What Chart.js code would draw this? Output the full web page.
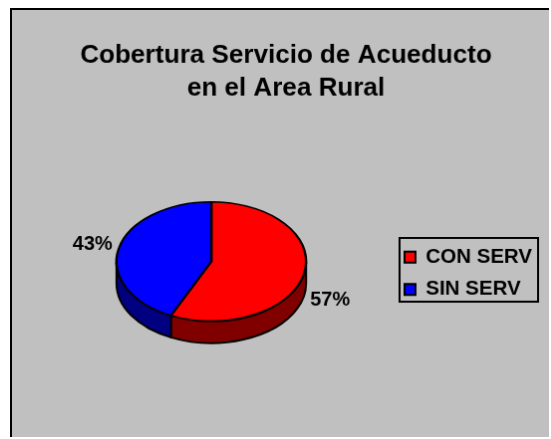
<!DOCTYPE html>
<html>
<head>
<meta charset="utf-8">
<script src="https://cdn.jsdelivr.net/npm/chart.js@4/dist/chart.umd.min.js"></script>
<style>
  html, body { margin: 0; padding: 0; background: #fff; overflow: hidden; }
  #myChart { position: absolute; left: 10px; top: 8px; border-left: 2px solid #000; border-top: 2px solid #000; background: #c0c0c0; }
</style>
</head>
<body>
<canvas id="myChart" width="539" height="429"></canvas>
<script>
var categories = ["CON SERV", "SIN SERV"];
var values = [57, 43];
var percentLabels = ["57%", "43%"];
var topColors = ["#ff0000", "#0000ff"];
var sideColors = ["#800000", "#000080"];

var tilt = 0.63;    // ellipse height / width
var depth = 22;     // wall height
var font = "Liberation Sans, Arial, sans-serif";

// fake 3d: wall first, then squash the pie
var pie3d = {
  id: "pie3d",
  afterLayout: function(chart) {
    // legend box sits lower than the pie centre
    var legend = chart.legend;
    legend.left = 382;
    legend.right = 528;
    legend.top = 203;
    legend.bottom = 326;
  },
  beforeDatasetsDraw: function(chart) {
    var ctx = chart.ctx;
    var arcs = chart.getDatasetMeta(0).data;

    arcs.forEach(function(arc, i) {
      var a = Math.max(arc.startAngle, 0);
      var b = Math.min(arc.endAngle, Math.PI);
      if (b <= a) return;
      var r = arc.outerRadius;
      ctx.beginPath();
      ctx.ellipse(arc.x, arc.y, r, r * tilt, 0, a, b);
      ctx.ellipse(arc.x, arc.y + depth, r, r * tilt, 0, b, a, true);
      ctx.closePath();
      ctx.fillStyle = sideColors[i];
      ctx.fill();
      ctx.lineWidth = 2;
      ctx.strokeStyle = "#000";
      ctx.stroke();
    });

    ctx.save();
    ctx.translate(arcs[0].x, arcs[0].y);
    ctx.scale(1, tilt);
    ctx.translate(-arcs[0].x, -arcs[0].y);
  },
  afterDatasetsDraw: function(chart) {
    var ctx = chart.ctx;
    ctx.restore();

    // percent labels outside the pie
    chart.getDatasetMeta(0).data.forEach(function(arc, i) {
      var mid = (arc.startAngle + arc.endAngle) / 2;
      var r = arc.outerRadius + 27;
      var y = arc.y + Math.sin(mid) * r * tilt;
      if (Math.sin(mid) > 0) y += depth;
      ctx.font = "bold 20px " + font;
      ctx.fillStyle = "#000";
      ctx.textAlign = "center";
      ctx.textBaseline = "middle";
      ctx.fillText(percentLabels[i], arc.x + Math.cos(mid) * r, y);
    });

    // legend frame
    ctx.lineWidth = 2;
    ctx.strokeStyle = "#000";
    ctx.strokeRect(389, 229, 139, 64);
  }
};

var ctx = document.getElementById("myChart").getContext("2d");
var chart = new Chart(ctx, {
  type: "pie",
  data: {
    labels: categories,
    datasets: [{
      data: values,
      backgroundColor: topColors,
      borderColor: "#000",
      borderWidth: 2.4,
      clip: false
    }]
  },
  plugins: [pie3d],
  options: {
    responsive: false,
    animation: false,
    layout: { padding: { left: 20, right: 9, top: 0, bottom: 80 } },
    plugins: {
      tooltip: { enabled: false },
      title: {
        display: true,
        text: ["Cobertura Servicio de Acueducto", "en el Area Rural"],
        color: "#000",
        font: { family: font, size: 26.1, weight: "bold", lineHeight: 1.27 },
        padding: { top: 29, bottom: 61 }
      },
      legend: {
        display: true,
        position: "right",
        labels: {
          color: "#000",
          font: { family: font, size: 20.5, weight: "bold" },
          padding: 12,
          boxHeight: 11,
          usePointStyle: true,
          pointStyle: "rect",
          pointStyleWidth: 11,
          generateLabels: function() {
            return categories.map(function(c, i) {
              return { text: c, fillStyle: topColors[i], strokeStyle: "#000", lineWidth: 2, pointStyle: "rect", index: i };
            });
          }
        }
      }
    }
  }
});
</script>
</body>
</html>
